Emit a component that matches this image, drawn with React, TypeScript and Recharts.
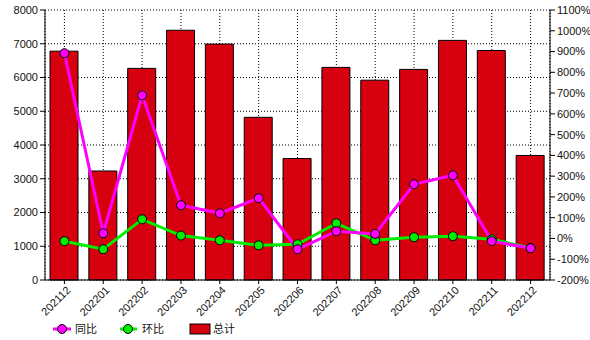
import React from "react";
import {
  ComposedChart,
  Bar,
  Line,
  XAxis,
  YAxis,
  CartesianGrid,
} from "recharts";

const months = [
  "202112", "202201", "202202", "202203", "202204", "202205", "202206",
  "202207", "202208", "202209", "202210", "202211", "202212",
];
const total = [6780, 3230, 6270, 7400, 6990, 4820, 3600, 6300, 5920, 6240, 7100, 6800, 3690];
const yoy = [892, 25, 689, 160, 121, 194, -52, 35, 22, 261, 304, -13, -47];
const mom = [-13, -52, 92, 14, -9, -33, -28, 73, -9, 6, 11, -4, -46];

const leftTicks = [0, 1000, 2000, 3000, 4000, 5000, 6000, 7000, 8000];
const rightTicks = [-200, -100, 0, 100, 200, 300, 400, 500, 600, 700, 800, 900, 1000, 1100];

const data = months.map((m, i) => ({ month: m, total: total[i], yoy: yoy[i], mom: mom[i] }));

const FONT = "'Liberation Sans', Arial, sans-serif";

const XTick = (props: any) => {
  const { x, y, payload } = props;
  return (
    <g transform={`translate(${x + 4},${y + 2})`}>
      <text
        textAnchor="end"
        transform="rotate(-45)"
        fontSize={11}
        fontFamily={FONT}
        fill="#111"
        dy={4}
      >
        {payload.value}
      </text>
    </g>
  );
};

const Legend = () => (
  <svg width={590} height={20} style={{ position: "absolute", left: 0, top: 319 }}>
    <g fontFamily="'Noto Sans CJK SC', sans-serif" fontSize={11} fill="#111">
      <line x1={53} y1={10} x2={71} y2={10} stroke="#ff00ff" strokeWidth={3} />
      <circle cx={62} cy={10} r={4.5} fill="#ff00ff" stroke="#000" strokeWidth={1} />
      <text x={75} y={14}>同比</text>
      <line x1={120} y1={10} x2={137} y2={10} stroke="#00ee00" strokeWidth={3} />
      <circle cx={128} cy={10} r={4.5} fill="#00ee00" stroke="#000" strokeWidth={1} />
      <text x={142} y={14}>环比</text>
      <rect x={190} y={5} width={20} height={10} fill="#d6000f" stroke="#000" strokeWidth={1} />
      <text x={213} y={14}>总计</text>
    </g>
  </svg>
);

export default function App() {
  return (
    <div style={{ position: "absolute", left: 0, top: 0, width: 590, height: 340, background: "#fff" }}>
      <ComposedChart
        width={590}
        height={340}
        data={data}
        margin={{ top: 10, right: 0, bottom: 0, left: 0 }}
      >
        <CartesianGrid
          yAxisId="left"
          stroke="#000"
          strokeDasharray="1 2"
          vertical
          horizontal
        />
        <XAxis
          dataKey="month"
          interval={0}
          height={60}
          tick={<XTick />}
          axisLine={{ stroke: "#000" }}
          tickLine={{ stroke: "#000" }}
          tickSize={4}
        />
        <YAxis
          yAxisId="left"
          width={45}
          domain={[0, 8000]}
          ticks={leftTicks}
          interval={0}
          tick={{ fontSize: 11, fill: "#111", fontFamily: FONT }}
          axisLine={{ stroke: "#000" }}
          tickLine={{ stroke: "#000" }}
          tickSize={5}
        />
        <YAxis
          yAxisId="right"
          orientation="right"
          width={40}
          domain={[-200, 1100]}
          ticks={rightTicks}
          interval={0}
          tickFormatter={(v) => `${v}%`}
          tick={{ fontSize: 11, fill: "#111", fontFamily: FONT, textAnchor: "start" }}
          axisLine={{ stroke: "#000" }}
          tickLine={{ stroke: "#000" }}
          tickSize={5}
        />
        <Bar
          yAxisId="left"
          dataKey="total"
          barSize={28}
          fill="#d6000f"
          stroke="#000"
          strokeWidth={1}
          isAnimationActive={false}
        />
        <Line
          yAxisId="right"
          dataKey="mom"
          stroke="#00ee00"
          strokeWidth={3}
          dot={{ r: 4.5, fill: "#00ee00", stroke: "#000", strokeWidth: 1 }}
          isAnimationActive={false}
        />
        <Line
          yAxisId="right"
          dataKey="yoy"
          stroke="#ff00ff"
          strokeWidth={3}
          dot={{ r: 4.5, fill: "#ff00ff", stroke: "#000", strokeWidth: 1 }}
          isAnimationActive={false}
        />
      </ComposedChart>
      <Legend />
    </div>
  );
}
